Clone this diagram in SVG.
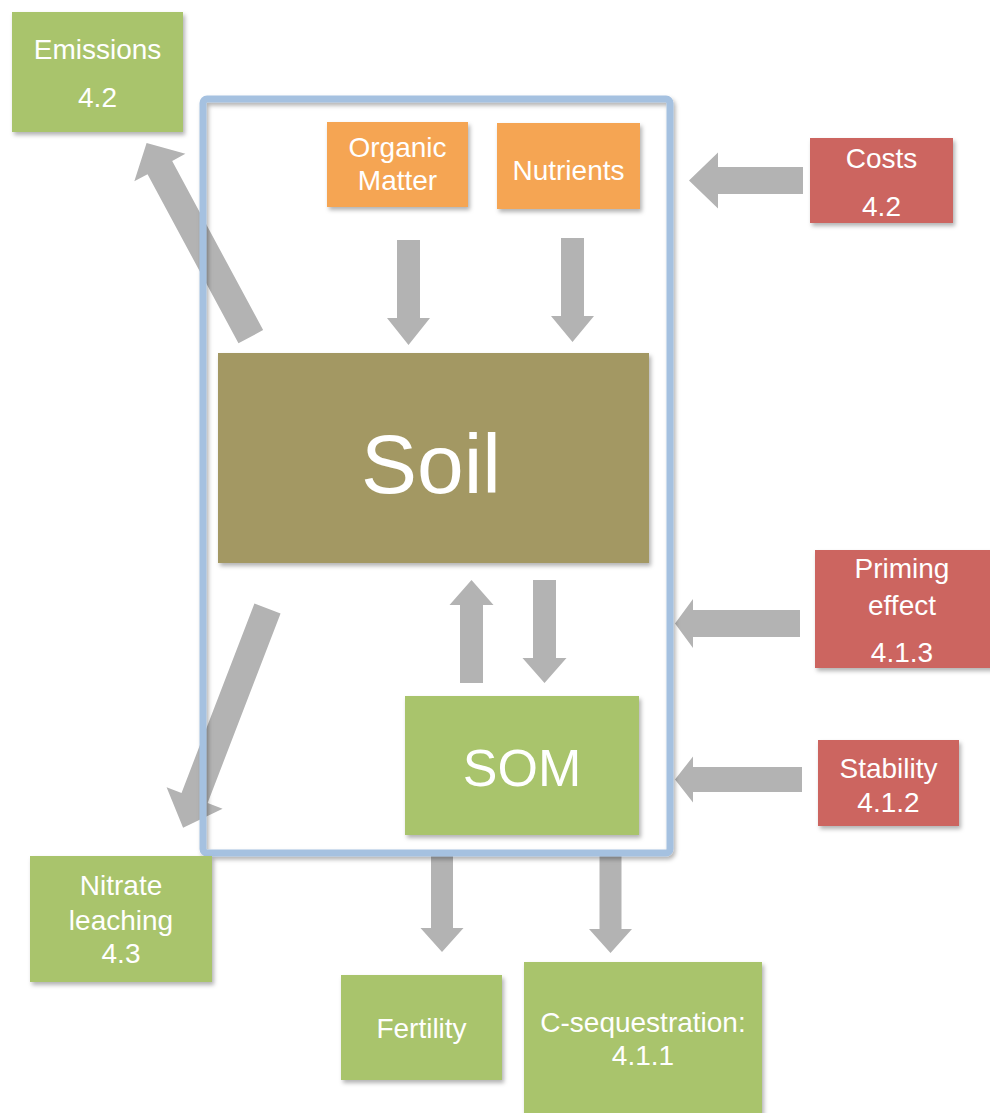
<svg xmlns="http://www.w3.org/2000/svg" width="990" height="1113" viewBox="0 0 990 1113">
<defs>
<filter id="sh" x="-10%" y="-10%" width="125%" height="130%">
<feDropShadow dx="2" dy="3" stdDeviation="2" flood-color="#000" flood-opacity="0.3"/>
</filter>
<style>
.g{fill:#a9c46c}
.o{fill:#f5a553}
.r{fill:#cc6560}
.soil{fill:#a39864}
.box{filter:url(#sh)}
.arr{fill:#b3b3b3}
text{font-family:"Liberation Sans",Arial,sans-serif;fill:#fff;text-anchor:middle;font-size:28px}
.big{font-size:84px}
.som{font-size:52px}
</style>
</defs>
<rect width="990" height="1113" fill="#fff"/>
<g id="connectors">
<polygon class="arr" transform="translate(250.8,336.7) rotate(-118.27)" points="0,-14 192,-14 192,-29 220,0 192,29 192,14 0,14"/>
<polygon class="arr" transform="translate(267.5,608.5) rotate(111.05)" points="0,-14 203,-14 203,-30 235,0 203,30 203,14 0,14"/>
<polygon class="arr" transform="translate(408.5,240) rotate(90)" points="0,-11.5 78,-11.5 78,-21.5 105,0 78,21.5 78,11.5 0,11.5"/>
<polygon class="arr" transform="translate(572.5,238) rotate(90)" points="0,-11.5 78,-11.5 78,-21.5 104,0 78,21.5 78,11.5 0,11.5"/>
<polygon class="arr" transform="translate(471.5,683) rotate(-90)" points="0,-11.5 78,-11.5 78,-22 103,0 78,22 78,11.5 0,11.5"/>
<polygon class="arr" transform="translate(544.5,580) rotate(90)" points="0,-11.5 78,-11.5 78,-22 103,0 78,22 78,11.5 0,11.5"/>
<polygon class="arr" transform="translate(442,855) rotate(90)" points="0,-11 73,-11 73,-21.5 97,0 73,21.5 73,11 0,11"/>
<polygon class="arr" transform="translate(610.5,855) rotate(90)" points="0,-11 74,-11 74,-21.5 98,0 74,21.5 74,11 0,11"/>
<polygon class="arr" transform="translate(803,180.5) rotate(180)" points="0,-13.5 85,-13.5 85,-28 114,0 85,28 85,13.5 0,13.5"/>
<polygon class="arr" transform="translate(800,623.5) rotate(180)" points="0,-13.5 107,-13.5 107,-24.5 125,0 107,24.5 107,13.5 0,13.5"/>
<polygon class="arr" transform="translate(802,779.5) rotate(180)" points="0,-12.5 109,-12.5 109,-23 127,0 109,23 109,12.5 0,12.5"/>
</g>
<g id="frame">
<rect x="203" y="99" width="467" height="754" rx="4" fill="none" stroke="#a5c1e0" stroke-width="7" filter="url(#sh)"/>
</g>
<g id="emissions">
<rect class="g box" x="12" y="12" width="171" height="120"/>
<text x="97.5" y="59">Emissions</text>
<text x="97.5" y="107">4.2</text>
</g>
<g id="organic-matter">
<rect class="o box" x="327" y="122" width="141" height="85"/>
<text x="397.5" y="157">Organic</text>
<text x="397.5" y="190">Matter</text>
</g>
<g id="nutrients">
<rect class="o box" x="497" y="123" width="143" height="86"/>
<text x="568.5" y="180">Nutrients</text>
</g>
<g id="costs">
<rect class="r box" x="810" y="138" width="143" height="85"/>
<text x="881.5" y="168">Costs</text>
<text x="881.5" y="216">4.2</text>
</g>
<g id="soil">
<rect class="soil box" x="218" y="353" width="431" height="210"/>
<text class="big" x="431" y="493">Soil</text>
</g>
<g id="priming-effect">
<rect class="r box" x="815" y="550" width="180" height="118"/>
<text x="902" y="578">Priming</text>
<text x="902" y="615">effect</text>
<text x="902" y="662">4.1.3</text>
</g>
<g id="stability">
<rect class="r box" x="818" y="740" width="141" height="86"/>
<text x="888.5" y="778">Stability</text>
<text x="888.5" y="812">4.1.2</text>
</g>
<g id="som">
<rect class="g box" x="405" y="696" width="234" height="139"/>
<text class="som" x="522" y="786">SOM</text>
</g>
<g id="nitrate-leaching">
<rect class="g box" x="30" y="856" width="182" height="126"/>
<text x="121" y="895">Nitrate</text>
<text x="121" y="930">leaching</text>
<text x="121" y="963">4.3</text>
</g>
<g id="fertility">
<rect class="g box" x="341" y="975" width="161" height="105"/>
<text x="421.5" y="1038">Fertility</text>
</g>
<g id="c-sequestration">
<rect class="g box" x="524" y="962" width="238" height="160"/>
<text x="643" y="1032">C-sequestration:</text>
<text x="643" y="1065">4.1.1</text>
</g>
</svg>
